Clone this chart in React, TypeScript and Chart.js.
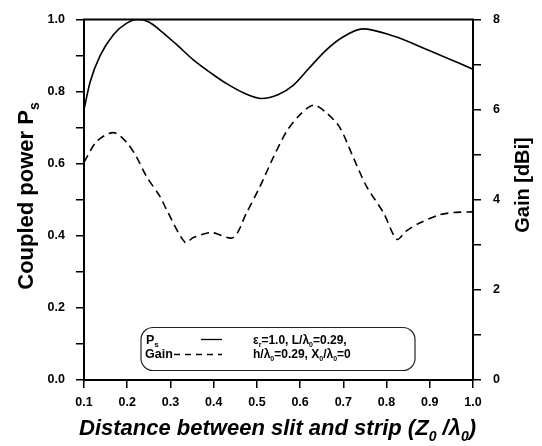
import React, { useEffect, useRef } from "react";
import { Chart, registerables } from "chart.js";

Chart.register(...registerables);

// ---- data ----
const psX = [0.1, 0.114, 0.137, 0.168, 0.199, 0.225, 0.25, 0.276, 0.31, 0.353, 0.4, 0.43, 0.47, 0.511, 0.55, 0.584, 0.62, 0.662, 0.7, 0.745, 0.816, 0.893, 1.0];
const psValues = [0.75, 0.826, 0.899, 0.958, 0.99, 1.0, 0.993, 0.97, 0.935, 0.888, 0.846, 0.822, 0.796, 0.781, 0.792, 0.817, 0.864, 0.917, 0.952, 0.974, 0.954, 0.917, 0.862];

const gainX = [0.1, 0.13, 0.168, 0.199, 0.222, 0.245, 0.276, 0.291, 0.334, 0.353, 0.395, 0.445, 0.476, 0.507, 0.538, 0.569, 0.6, 0.631, 0.662, 0.692, 0.723, 0.754, 0.793, 0.824, 0.846, 0.878, 0.924, 0.96, 1.0];
const gainValues = [4.83, 5.3, 5.49, 5.27, 4.94, 4.51, 4.07, 3.78, 3.05, 3.16, 3.27, 3.16, 3.71, 4.29, 4.94, 5.52, 5.89, 6.1, 5.92, 5.6, 4.94, 4.29, 3.71, 3.12, 3.31, 3.49, 3.67, 3.72, 3.73];

const xTickRange = [0.1, 1.0, 0.1];
const leftTickRange = [0, 1, 0.1];
const rightTickRange = [0, 8, 1];

type Seg = { t: string; sub?: boolean };
const leftTitle: Seg[] = [{ t: "Coupled power P" }, { t: "s", sub: true }];
const rightTitle: Seg[] = [{ t: "Gain [dBi]" }];
const bottomTitle: Seg[] = [
  { t: "Distance between slit and strip (Z" },
  { t: "0", sub: true },
  { t: " /λ" },
  { t: "0", sub: true },
  { t: ")" },
];
const legendPs: Seg[] = [{ t: "P" }, { t: "s", sub: true }];
const legendGain: Seg[] = [{ t: "Gain" }];
const legendNote1: Seg[] = [
  { t: "ε" },
  { t: "r", sub: true },
  { t: "=1.0, L/λ" },
  { t: "0", sub: true },
  { t: "=0.29," },
];
const legendNote2: Seg[] = [
  { t: "h/λ" },
  { t: "0", sub: true },
  { t: "=0.29, X" },
  { t: "0", sub: true },
  { t: "/λ" },
  { t: "0", sub: true },
  { t: "=0" },
];

const FAM = '"Liberation Sans", Arial, Helvetica, sans-serif';

function drawRich(
  ctx: CanvasRenderingContext2D,
  segs: Seg[],
  x: number,
  y: number,
  size: number,
  style: string,
  align: "left" | "center"
) {
  const fontFor = (sub?: boolean) => `${style} ${sub ? Math.round(size * 0.62) : size}px ${FAM}`;
  let total = 0;
  const widths = segs.map((s) => {
    ctx.font = fontFor(s.sub);
    const w = ctx.measureText(s.t).width;
    total += w;
    return w;
  });
  let cx = align === "center" ? x - total / 2 : x;
  ctx.textAlign = "left";
  ctx.textBaseline = "alphabetic";
  segs.forEach((s, i) => {
    ctx.font = fontFor(s.sub);
    ctx.fillText(s.t, cx, y + (s.sub ? size * 0.28 : 0));
    cx += widths[i];
  });
}

const decorPlugin = {
  id: "decor",
  afterDraw(chart: any) {
    const ctx: CanvasRenderingContext2D = chart.ctx;
    const a = chart.chartArea;
    ctx.save();
    ctx.fillStyle = "#000";
    ctx.strokeStyle = "#000";
    // top frame line
    ctx.lineWidth = 2;
    ctx.beginPath();
    ctx.moveTo(a.left - 1, a.top);
    ctx.lineTo(a.right + 1, a.top);
    ctx.stroke();

    // left title
    ctx.save();
    ctx.translate(33, 196);
    ctx.rotate(-Math.PI / 2);
    drawRich(ctx, leftTitle, 0, 0, 22, "bold", "center");
    ctx.restore();

    // right title
    ctx.save();
    ctx.translate(529, 185);
    ctx.rotate(-Math.PI / 2);
    drawRich(ctx, rightTitle, 0, 0, 20, "bold", "center");
    ctx.restore();

    // bottom title
    drawRich(ctx, bottomTitle, (a.left + a.right) / 2 - 1, 435, 22, "italic bold", "center");

    // legend box
    const bx = a.left + 57;
    const by = a.top + 308;
    const bw = 274;
    const bh = 43;
    ctx.fillStyle = "#fff";
    ctx.strokeStyle = "#222";
    ctx.lineWidth = 1.2;
    ctx.beginPath();
    (ctx as any).roundRect(bx, by, bw, bh, 12);
    ctx.fill();
    ctx.stroke();

    ctx.fillStyle = "#000";
    drawRich(ctx, legendPs, bx + 5, by + 16, 12.5, "bold", "left");
    drawRich(ctx, legendGain, bx + 4, by + 30, 12.5, "bold", "left");
    drawRich(ctx, legendNote1, bx + 112, by + 16, 12, "bold", "left");
    drawRich(ctx, legendNote2, bx + 112, by + 30, 12, "bold", "left");

    ctx.strokeStyle = "#000";
    ctx.lineWidth = 1.3;
    ctx.beginPath();
    ctx.moveTo(bx + 60, by + 12);
    ctx.lineTo(bx + 81, by + 12);
    ctx.stroke();
    ctx.setLineDash([6, 5]);
    ctx.beginPath();
    ctx.moveTo(bx + 33, by + 27);
    ctx.lineTo(bx + 81, by + 27);
    ctx.stroke();
    ctx.setLineDash([]);
    ctx.restore();
  },
};

const tickFont = { family: FAM, size: 12.5, weight: "bold" as const };

export default function App() {
  const ref = useRef<HTMLCanvasElement>(null);
  useEffect(() => {
    if (!ref.current) return;
    const chart = new Chart(ref.current, {
      type: "line",
      data: {
        datasets: [
          {
            label: "Ps",
            data: psX.map((x, i) => ({ x, y: psValues[i] })),
            yAxisID: "y",
            borderColor: "#000",
            borderWidth: 1.6,
            pointRadius: 0,
            cubicInterpolationMode: "monotone",
            fill: false,
          },
          {
            label: "Gain",
            data: gainX.map((x, i) => ({ x, y: gainValues[i] })),
            yAxisID: "y2",
            borderColor: "#000",
            borderWidth: 1.6,
            borderDash: [8, 5],
            pointRadius: 0,
            tension: 0.3,
            fill: false,
          },
        ],
      },
      options: {
        responsive: false,
        animation: false,
        devicePixelRatio: 1,
        layout: { padding: { top: 13, left: 0, right: 0, bottom: 0 } },
        plugins: { legend: { display: false }, tooltip: { enabled: false } },
        scales: {
          x: {
            type: "linear",
            min: xTickRange[0],
            max: xTickRange[1],
            ticks: {
              stepSize: xTickRange[2],
              autoSkip: false,
              maxRotation: 0,
              color: "#000",
              font: tickFont,
              padding: 7,
              callback: (v: any) => Number(v).toFixed(1),
            },
            grid: { drawOnChartArea: false, drawTicks: true, tickLength: 8, color: "#000", lineWidth: 1.5 },
            border: { display: true, color: "#000", width: 2 },
            afterFit: (s: any) => {
              s.height = 66;
            },
          },
          y: {
            type: "linear",
            position: "left",
            min: leftTickRange[0],
            max: leftTickRange[1],
            ticks: {
              stepSize: leftTickRange[2],
              autoSkip: false,
              color: "#000",
              font: tickFont,
              padding: 11,
              callback: (v: any) => {
                const k = Math.round(Number(v) * 10);
                return k % 2 === 0 ? Number(v).toFixed(1) : "";
              },
            },
            grid: { drawOnChartArea: false, drawTicks: true, tickLength: 8, color: "#000", lineWidth: 1.5 },
            border: { display: true, color: "#000", width: 2 },
            afterFit: (s: any) => {
              s.width = 84;
            },
          },
          y2: {
            type: "linear",
            position: "right",
            min: rightTickRange[0],
            max: rightTickRange[1],
            ticks: {
              stepSize: rightTickRange[2],
              autoSkip: false,
              color: "#000",
              font: tickFont,
              padding: 12,
              callback: (v: any) => {
                const k = Math.round(Number(v));
                return k % 2 === 0 ? String(k) : "";
              },
            },
            grid: { drawOnChartArea: false, drawTicks: true, tickLength: 8, color: "#000", lineWidth: 1.5 },
            border: { display: true, color: "#000", width: 2 },
            afterFit: (s: any) => {
              s.width = 69;
            },
          },
        },
      } as any,
      plugins: [decorPlugin],
    });
    return () => chart.destroy();
  }, []);
  return (
    <div style={{ position: "fixed", left: 0, top: 0, width: 542, height: 446, background: "#fff" }}>
      <canvas ref={ref} width={542} height={446} style={{ display: "block" }} />
    </div>
  );
}
